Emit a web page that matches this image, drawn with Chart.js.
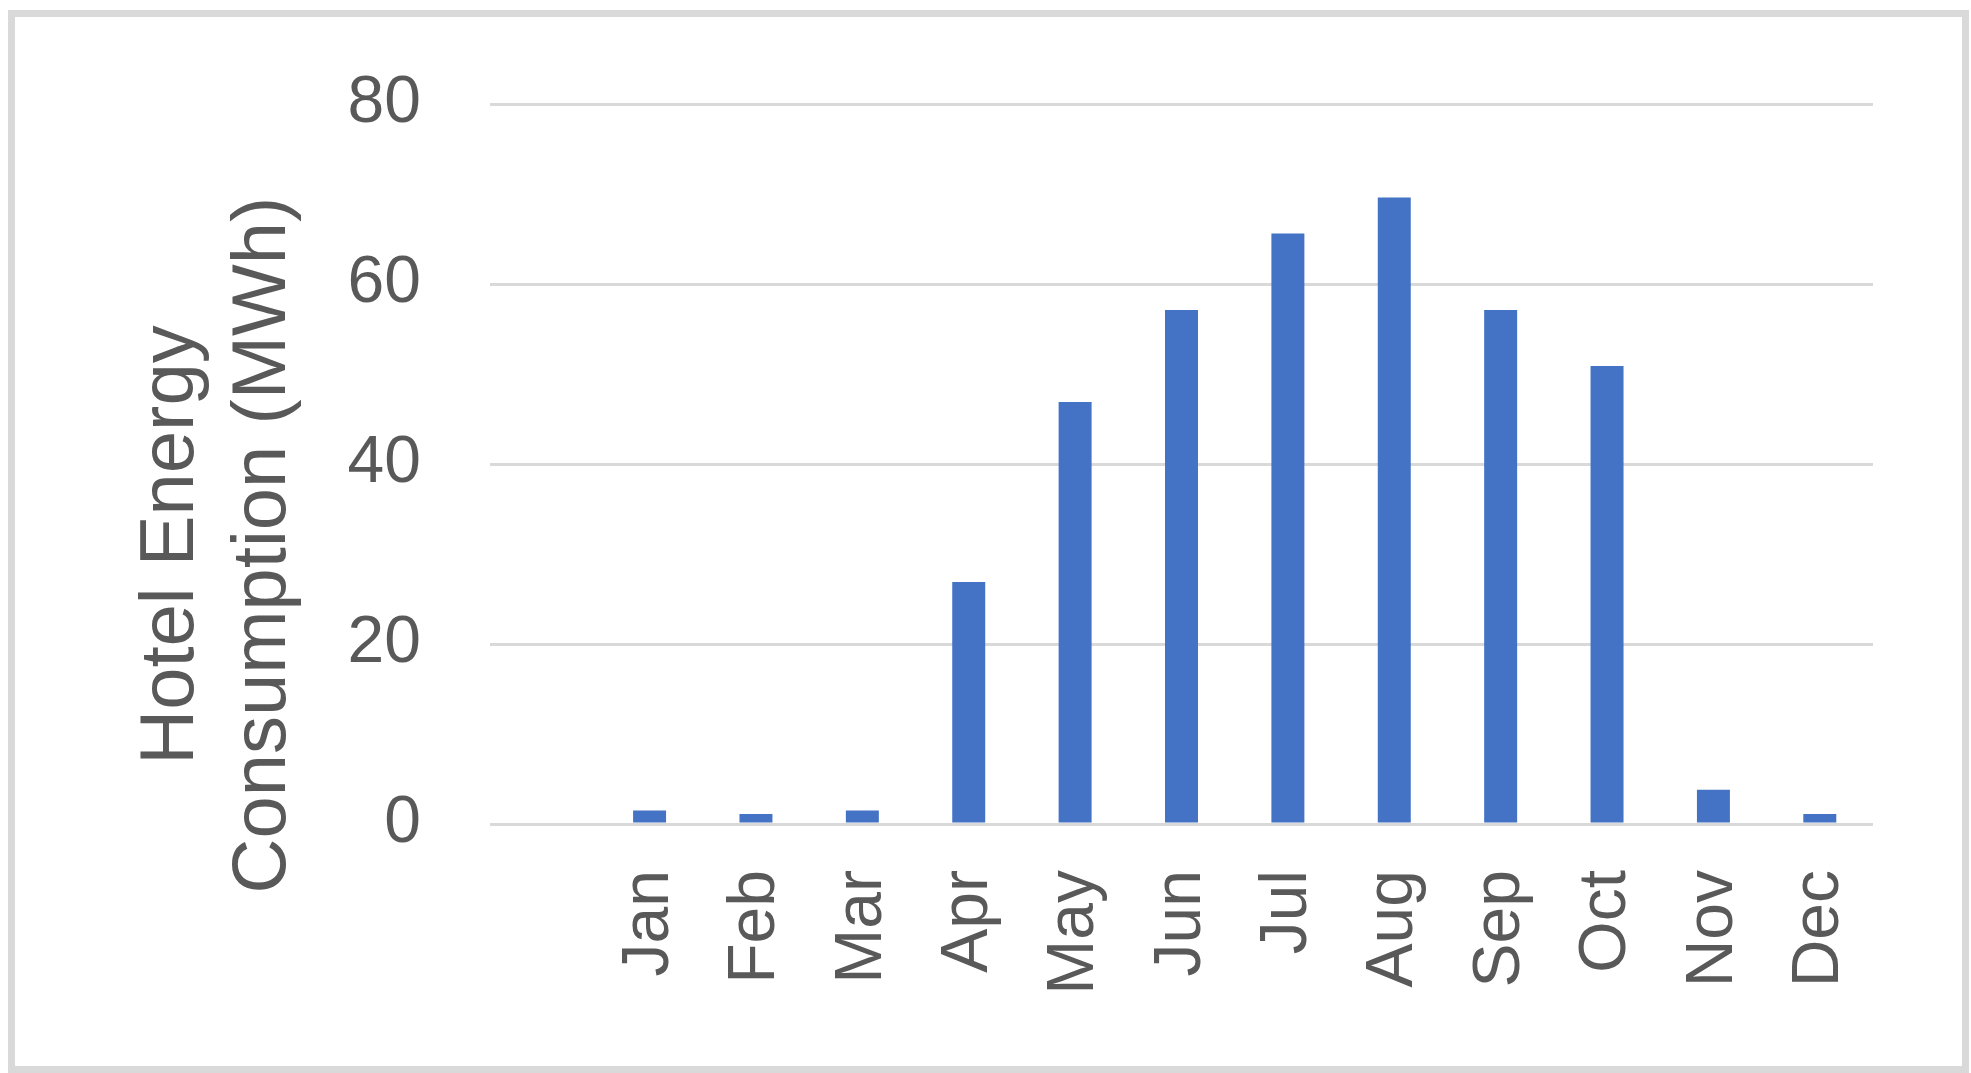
<!DOCTYPE html>
<html>
<head>
<meta charset="utf-8">
<script src="https://cdn.jsdelivr.net/npm/chart.js@4"></script>
<style>
  html, body { margin: 0; padding: 0; background: #ffffff; width: 1971px; height: 1073px; overflow: hidden; }
  #frame { position: absolute; left: 8px; top: 10px; width: 1947px; height: 1049px; border: 7px solid #d9d9d9; box-sizing: content-box; }
  #wrap { position: absolute; left: 0; top: 0; width: 1971px; height: 1073px; }
</style>
</head>
<body>
<div id="frame"></div>
<div id="wrap"><canvas id="c" width="1971" height="1073"></canvas></div>
<script>
const categories = ['', 'Jan', 'Feb', 'Mar', 'Apr', 'May', 'Jun', 'Jul', 'Aug', 'Sep', 'Oct', 'Nov', 'Dec'];
const energyMWh = [null, 1.5, 1.1, 1.5, 26.9, 46.9, 57.1, 65.6, 69.6, 57.1, 50.9, 3.8, 1.1];
const yTicks = [0, 20, 40, 60, 80];
const yTitleLines = ['Hotel Energy', 'Consumption (MWh)'];

const FONT = '"Liberation Sans", Arial, sans-serif';
const TEXT = '#595959';

const titlePlugin = {
  id: 'yTitle',
  afterDraw(chart) {
    const ctx = chart.ctx;
    ctx.save();
    ctx.fillStyle = TEXT;
    ctx.font = '76px ' + FONT;
    ctx.textAlign = 'center';
    ctx.textBaseline = 'middle';
    const cy = 545;
    const xs = [172, 264];
    yTitleLines.forEach((t, i) => {
      ctx.save();
      ctx.translate(xs[i], cy);
      ctx.rotate(-Math.PI / 2);
      ctx.fillText(t, 0, 0);
      ctx.restore();
    });
    ctx.restore();
  }
};

function zeroPad(scale) {
  scale.paddingTop = 0; scale.paddingBottom = 0;
  scale.paddingLeft = 0; scale.paddingRight = 0;
}

new Chart(document.getElementById('c'), {
  type: 'bar',
  data: {
    labels: categories,
    datasets: [{
      data: energyMWh,
      backgroundColor: '#4472C4',
      borderWidth: 0,
      barPercentage: 0.31,
      categoryPercentage: 1.0
    }]
  },
  options: {
    responsive: false,
    animation: false,
    devicePixelRatio: 1,
    layout: { padding: { left: 0, top: 104, right: 98, bottom: 0 } },
    plugins: { legend: { display: false }, tooltip: { enabled: false } },
    scales: {
      x: {
        grid: { display: false, drawTicks: false },
        border: { display: false },
        ticks: {
          color: TEXT,
          font: { family: FONT, size: 66 },
          minRotation: 90,
          maxRotation: 90,
          padding: 46,
          autoSkip: false
        },
        afterFit(scale) { scale.height = 1073 - 824; zeroPad(scale); }
      },
      y: {
        min: 0,
        max: 80,
        afterBuildTicks(scale) { scale.ticks = yTicks.map(v => ({ value: v })); },
        grid: { color: '#d9d9d9', lineWidth: 3, drawTicks: false },
        border: { display: false },
        ticks: {
          color: TEXT,
          font: { family: FONT, size: 66 },
          padding: 69
        },
        afterFit(scale) { scale.width = 490; zeroPad(scale); }
      }
    }
  },
  plugins: [titlePlugin]
});
</script>
</body>
</html>
